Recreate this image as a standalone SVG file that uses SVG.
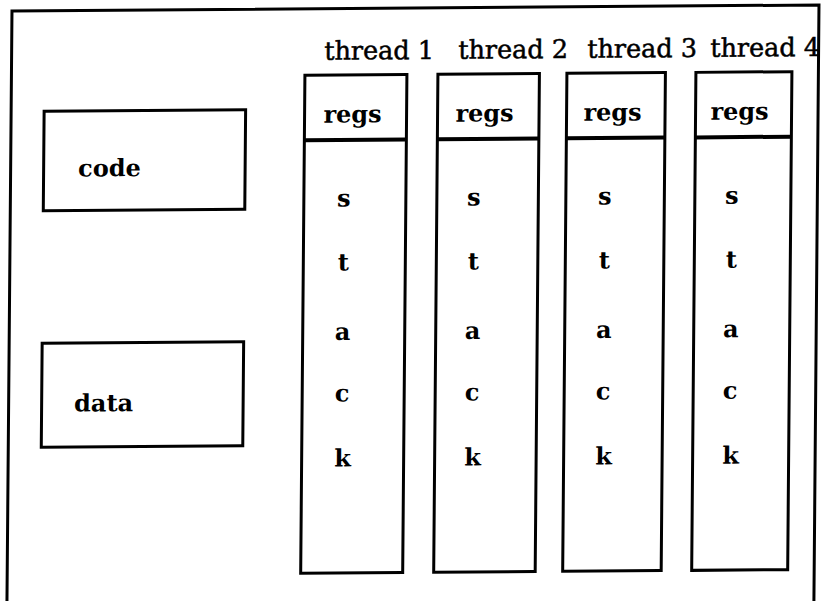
<svg xmlns="http://www.w3.org/2000/svg" width="823" height="601" viewBox="0 0 823 601">
<style>
.box{fill:none;stroke:#000;stroke-width:3;stroke-linejoin:miter}
.div{stroke:#000;stroke-width:4}
.th{font-family:"DejaVu Serif","Liberation Serif",serif;font-size:25.5px;fill:#000;stroke:#000;stroke-width:0.5}
.lb{font-family:"DejaVu Serif","Liberation Serif",serif;font-size:24px;font-weight:bold;fill:#000}
.mid{text-anchor:middle}
</style>
<rect width="823" height="601" fill="#fff"/>
<g transform="matrix(1,-0.0075,-0.0085,1,2.55,3.08)">
<path id="frame" class="box" d="M9.5,640 L9.5,8 L816.5,8 L816.5,640"/>
<g id="code">
<rect class="box" x="42.5" y="108.5" width="201.5" height="99.5"/>
<text class="lb" x="77" y="174">code</text>
</g>
<g id="data">
<rect class="box" x="42.5" y="340.5" width="201.5" height="104"/>
<text class="lb" x="75" y="409">data</text>
</g>
<g id="thread1">
<text class="th mid" x="377" y="59">thread 1</text>
<rect class="box" x="303" y="74.5" width="102" height="498"/>
<line class="div" x1="303" y1="139.5" x2="405" y2="139.5"/>
<text class="lb mid" x="351" y="122">regs</text>
<g class="lb mid">
<text x="343" y="206">s</text><text x="343" y="270">t</text><text x="343" y="339.5">a</text><text x="343" y="401">c</text><text x="344" y="466">k</text>
</g>
</g>
<g id="thread2">
<text class="th mid" x="511" y="59">thread 2</text>
<rect class="box" x="436" y="74.5" width="101.5" height="498"/>
<line class="div" x1="436" y1="139.5" x2="537.5" y2="139.5"/>
<text class="lb mid" x="483" y="122">regs</text>
<g class="lb mid">
<text x="473" y="206">s</text><text x="473" y="270">t</text><text x="473" y="339.5">a</text><text x="473" y="401">c</text><text x="474" y="466">k</text>
</g>
</g>
<g id="thread3">
<text class="th mid" x="640" y="59">thread 3</text>
<rect class="box" x="565" y="74.5" width="98.5" height="498"/>
<line class="div" x1="565" y1="139.5" x2="663.5" y2="139.5"/>
<text class="lb mid" x="611" y="122">regs</text>
<g class="lb mid">
<text x="604" y="206">s</text><text x="604" y="270">t</text><text x="604" y="339.5">a</text><text x="604" y="401">c</text><text x="605" y="466">k</text>
</g>
</g>
<g id="thread4">
<text class="th mid" x="763" y="59">thread 4</text>
<rect class="box" x="694" y="74.5" width="96" height="498"/>
<line class="div" x1="694" y1="139.5" x2="790" y2="139.5"/>
<text class="lb mid" x="738" y="122">regs</text>
<g class="lb mid">
<text x="731" y="206">s</text><text x="731" y="270">t</text><text x="731" y="339.5">a</text><text x="731" y="401">c</text><text x="732" y="466">k</text>
</g>
</g>
</g>
</svg>
